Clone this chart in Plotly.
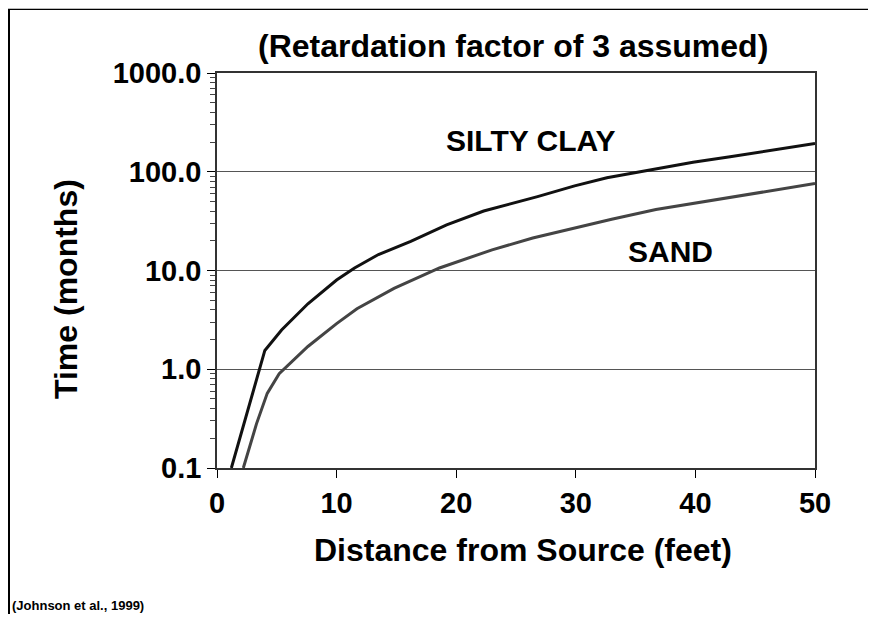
import plotly.graph_objects as go

# data (distance in feet, time in months)
clay_dist = [1.2, 2.0, 2.8, 3.4, 4.0, 5.4, 7.6, 10.0, 11.5, 13.5, 16.2, 19.2, 22.3, 26.8, 29.9, 32.6, 36.0, 39.8, 42.9, 46.3, 50.0]
clay_time = [0.1, 0.22, 0.47, 0.86, 1.55, 2.5, 4.6, 8.0, 10.6, 14.5, 19.7, 29, 40, 56, 72, 87, 103, 125, 142, 165, 193]

sand_dist = [2.2, 2.8, 3.3, 4.2, 5.2, 7.6, 10.0, 11.7, 14.8, 18.6, 23.0, 26.4, 29.9, 33.0, 36.7, 42.9, 46.0, 50.0]
sand_time = [0.1, 0.18, 0.28, 0.57, 0.9, 1.7, 2.9, 4.1, 6.6, 10.6, 16.2, 21.3, 27, 33, 41.4, 54.5, 63, 76]

y_ticks = [0.1, 1, 10, 100, 1000]
y_labels = ["0.1", "1.0", "10.0", "100.0", "1000.0"]
x_ticks = [0, 10, 20, 30, 40, 50]

minor_vals = [m * d for d in [0.1, 1, 10, 100] for m in range(2, 10)]

font_fam = "Liberation Sans, Arial, sans-serif"


# page pixel -> paper coords (plot area sits at 217..815 x 73..468 on the page)
def px(x):
    return (x - 217) / 598


def py(y):
    return (468 - y) / 395


fig = go.Figure()

fig.add_scatter(x=clay_dist, y=clay_time, mode="lines", line=dict(color="#111111", width=3), showlegend=False)
fig.add_scatter(x=sand_dist, y=sand_time, mode="lines", line=dict(color="#444444", width=3), showlegend=False)

# the page body adds an 8px offset, so the figure is kept a bit smaller than the window
fig.update_layout(
    width=860, height=606,
    margin=dict(l=209, r=53, t=65, b=146),
    paper_bgcolor="white", plot_bgcolor="white",
    font=dict(family=font_fam, size=20, color="black", weight="bold"),
)

fig.update_xaxes(
    range=[0, 50], tickvals=x_ticks, ticks="outside", ticklen=8, tickcolor="black",
    showline=True, linecolor="#333333", linewidth=1.5, mirror=True,
    showgrid=False, zeroline=False,
    tickfont=dict(size=29, weight="bold"),
)

fig.update_yaxes(
    type="log", range=[-1, 3], tickvals=y_ticks, ticktext=y_labels,
    ticks="outside", ticklen=8, tickcolor="black",
    minor=dict(tickmode="array", tickvals=minor_vals, ticks="outside", ticklen=5, tickcolor="#444444", showgrid=False),
    showline=True, linecolor="#333333", linewidth=1.5, mirror=True,
    showgrid=True, gridcolor="#555555", gridwidth=1, zeroline=False,
    tickfont=dict(size=29, weight="bold"),
)

# outer chart frame
fig.add_shape(type="line", xref="paper", yref="paper", x0=px(9), y0=py(640), x1=px(9), y1=py(9),
              line=dict(color="black", width=2))
fig.add_shape(type="line", xref="paper", yref="paper", x0=px(9), y0=py(9), x1=px(900), y1=py(9),
              line=dict(color="black", width=2))
fig.add_shape(type="line", xref="paper", yref="paper", x0=px(0), y0=py(8.5), x1=px(900), y1=py(8.5),
              line=dict(color="#bbbbbb", width=1))

# titles and labels
fig.add_annotation(text="(Retardation factor of 3 assumed)", xref="paper", yref="paper",
                   x=px(513), y=py(46), xanchor="center", yanchor="middle", showarrow=False,
                   font=dict(size=32, weight="bold"))
fig.add_annotation(text="Distance from Source (feet)", xref="paper", yref="paper",
                   x=px(523), y=py(550), xanchor="center", yanchor="middle", showarrow=False,
                   font=dict(size=32, weight="bold"))
fig.add_annotation(text="Time (months)", xref="paper", yref="paper", textangle=-90,
                   x=px(66), y=py(289), xanchor="center", yanchor="middle", showarrow=False,
                   font=dict(size=32, weight="bold"))
fig.add_annotation(text="SILTY CLAY", x=26.2, y=2.32, xanchor="center", yanchor="middle", showarrow=False,
                   font=dict(size=30, weight="bold"))
fig.add_annotation(text="SAND", x=37.9, y=1.19, xanchor="center", yanchor="middle", showarrow=False,
                   font=dict(size=30, weight="bold"))
fig.add_annotation(text="(Johnson et al., 1999)", xref="paper", yref="paper",
                   x=px(10), y=py(605), xanchor="left", yanchor="middle", showarrow=False,
                   font=dict(size=13, weight="bold"))

fig.write_html("out.html")
